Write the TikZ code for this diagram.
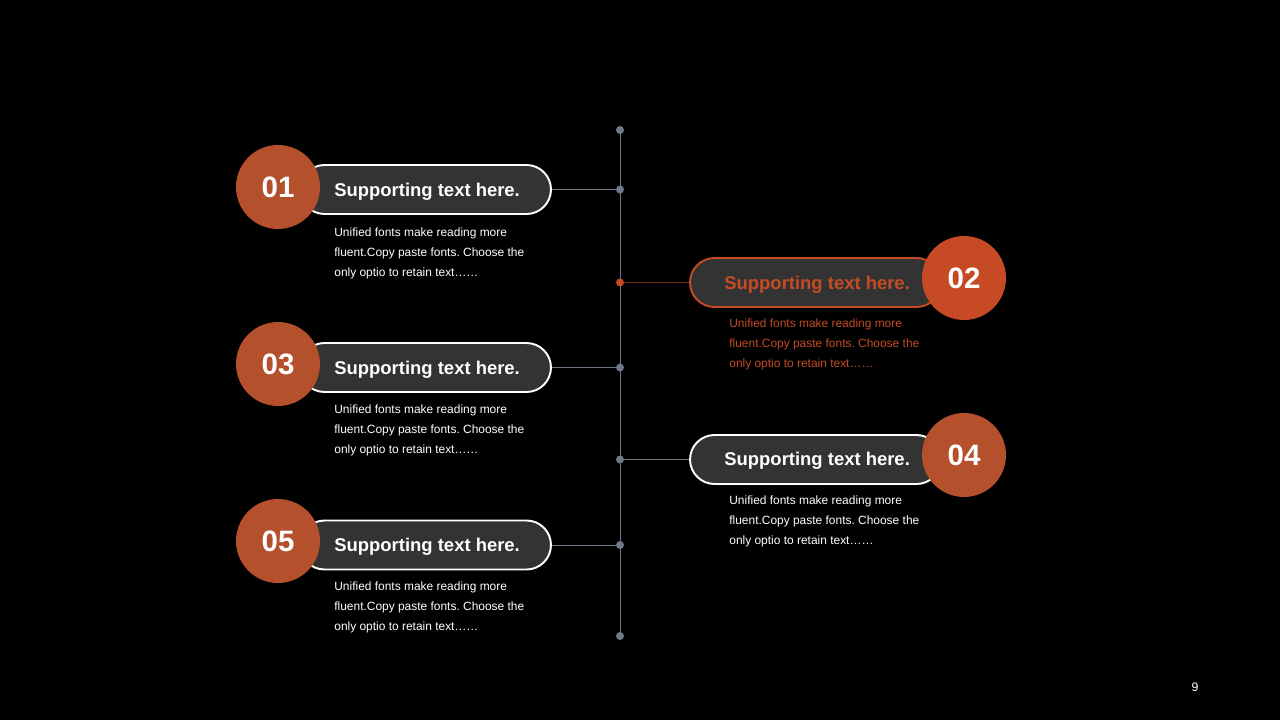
\documentclass[tikz,border=0pt]{standalone}
\usepackage{fontspec}
\setmainfont{Liberation Sans}
\usetikzlibrary{positioning}
\frenchspacing

\definecolor{rust}{HTML}{B4502C}
\definecolor{flame}{HTML}{C64B24}
\definecolor{pillgrey}{HTML}{333333}
\definecolor{slate}{HTML}{6E7888}
\definecolor{ember}{HTML}{7A2E16}

\tikzset{
  pill/.style={draw=white, line width=1.1pt, fill=pillgrey, rounded corners=0.49cm,
    minimum width=5.02cm, minimum height=0.98cm, inner sep=0},
  badge/.style={circle, fill=rust, minimum size=1.68cm, inner sep=0, text=white,
    font=\bfseries\fontsize{16.8}{20}\selectfont},
  headline/.style={anchor=west, inner sep=0, text=white,
    font=\bfseries\fontsize{10.5}{12}\selectfont},
  blurb/.style={anchor=north west, inner sep=0, text=white, align=left,
    font=\fontsize{6.8}{11.6}\selectfont},
  dot/.style={circle, fill=slate, inner sep=0, minimum size=0.16cm},
  link/.style={slate, line width=0.5pt}
}

\begin{document}
\begin{tikzpicture}[x=0.02cm, y=-0.02cm]
    % background
    \fill[black] (0,0) rectangle (1280,720);

    % timeline
    \coordinate (top) at (620,130);
    \coordinate (bottom) at (620,636);
    \draw[link] (top) -- (bottom);
    \node[dot] (d0) at (top) {};
    \node[dot] (d1) at (620,189.5) {};
    \node[dot, fill=flame] (d2) at (620,282.5) {};
    \node[dot] (d3) at (620,367.5) {};
    \node[dot] (d4) at (620,459.5) {};
    \node[dot] (d5) at (620,545) {};
    \node[dot] (d6) at (bottom) {};

    % item 01
    \node[pill] (p1) at (425.5,189.5) {};
    \node[badge] (c1) at (278,187) {01};
    \node[headline] (t1) at (334,192) {Supporting text here.};
    \node[blurb] (b1) at (334,227) {Unified fonts make reading more\\fluent.Copy paste fonts. Choose the\\only optio to retain text\dots\dots};
    \draw[link] (p1.east) -- (d1);

    % item 02 (highlighted)
    \node[pill, draw=flame] (p2) at (815.5,282.5) {};
    \node[badge, fill=flame] (c2) at (964,278) {02};
    \node[headline, text=flame] (t2) at (724,285) {Supporting text here.};
    \node[blurb, text=flame] (b2) at (729,318) {Unified fonts make reading more\\fluent.Copy paste fonts. Choose the\\only optio to retain text\dots\dots};
    \draw[ember, line width=0.8pt] (d2) -- (p2.west);

    % item 03
    \node[pill] (p3) at (425.5,367.5) {};
    \node[badge] (c3) at (278,364) {03};
    \node[headline] (t3) at (334,370) {Supporting text here.};
    \node[blurb] (b3) at (334,404) {Unified fonts make reading more\\fluent.Copy paste fonts. Choose the\\only optio to retain text\dots\dots};
    \draw[link] (p3.east) -- (d3);

    % item 04
    \node[pill] (p4) at (815.5,459.5) {};
    \node[badge] (c4) at (964,455) {04};
    \node[headline] (t4) at (724,461) {Supporting text here.};
    \node[blurb] (b4) at (729,495) {Unified fonts make reading more\\fluent.Copy paste fonts. Choose the\\only optio to retain text\dots\dots};
    \draw[link] (d4) -- (p4.west);

    % item 05
    \node[pill] (p5) at (425.5,545) {};
    \node[badge] (c5) at (278,541) {05};
    \node[headline] (t5) at (334,547) {Supporting text here.};
    \node[blurb] (b5) at (334,581) {Unified fonts make reading more\\fluent.Copy paste fonts. Choose the\\only optio to retain text\dots\dots};
    \draw[link] (p5.east) -- (d5);

    % page number
    \node[text=white, font=\fontsize{7}{8}\selectfont] (pg) at (1195,687) {9};
\end{tikzpicture}
\end{document}
